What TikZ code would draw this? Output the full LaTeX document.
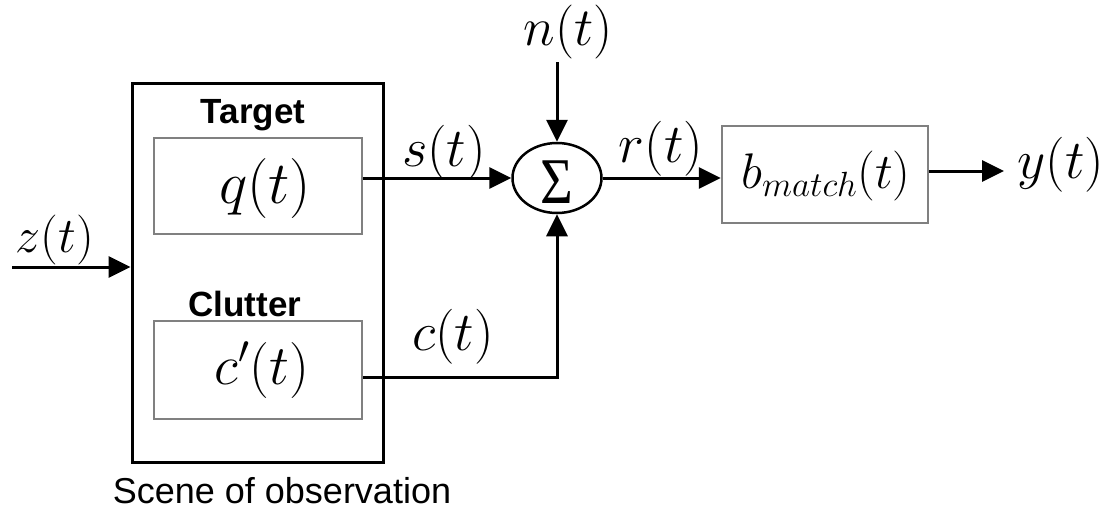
\RequirePackage{fix-cm}
\documentclass[tikz,border=0pt]{standalone}
\usepackage{graphicx}
\usepackage{fontspec}
\newfontfamily\arialfont{Liberation Sans}
\newfontfamily\serifsym{Liberation Serif}
\usetikzlibrary{arrows.meta,shapes.geometric}
\definecolor{boxgray}{RGB}{128,128,128}
\newcommand{\fs}[1]{\fontsize{#1}{#1}\selectfont}
\tikzset{
  sig/.style={line width=3pt,-{Triangle[length=22pt,width=21pt]}},
  graybox/.style={draw=boxgray,line width=2.5pt,rectangle,inner sep=0pt},
  lbl/.style={inner sep=0pt},
  head/.style={inner sep=0pt,anchor=base,font=\arialfont\bfseries\fs{35}},
}
\begin{document}
\begin{tikzpicture}[x=1pt,y=-1pt]
\useasboundingbox (0,0) rectangle (1117,512);
% blocks
\node[draw,line width=3pt,minimum width=251pt,minimum height=379pt,inner sep=0pt] (scene) at (257.5,272.5) {};
\node[graybox,minimum width=208pt,minimum height=96pt] (qbox) at (258,186) {};
\node[graybox,minimum width=208pt,minimum height=98pt] (cbox) at (258,370) {};
\node[draw,ellipse,line width=2.5pt,minimum width=89pt,minimum height=70pt,inner sep=0pt] (sum) at (557,178) {};
\node[lbl] (sigma) at (557,182.5) {\scalebox{1.25}[1.45]{\serifsym\fs{45}Σ}};
\node[graybox,minimum width=206pt,minimum height=97pt] (bbox) at (825,174.5) {};
% texts
\node[head] (target) at (253,123) {Target};
\node[head] (clutter) at (245,316) {Clutter};
\node[lbl,anchor=base,font=\arialfont\fs{36}] (scenelbl) at (282,503) {Scene of observation};
\node[lbl,font=\fs{60}] (qlbl) at (265,188) {$q(t)$};
\node[lbl,font=\fs{56}] (clbl) at (262,370) {$c'(t)$};
\node[lbl,font=\fs{50}] (zlbl) at (55,240) {$z(t)$};
\node[lbl,font=\fs{54}] (nlbl) at (568,32) {$n(t)$};
\node[lbl,font=\fs{55}] (slbl) at (444,153) {$s(t)$};
\node[lbl,font=\fs{55}] (rlbl) at (661,149) {$r(t)$};
\node[lbl,font=\fs{55}] (ctlbl) at (453,337) {$c(t)$};
\node[lbl,font=\fs{50}] (blbl) at (826,176) {$b_{match}(t)$};
\node[lbl,font=\fs{55}] (ylbl) at (1061,165) {$y(t)$};
% coordinates
\coordinate (zin) at (12,267);
\coordinate (nin) at (557,62);
\coordinate (cturn) at (557,377);
\coordinate (yend) at (1004,171);
% connectors
\draw[sig] (zin) -- (zin -| scene.west);
\draw[sig] (nin) -- (sum.north);
\draw[sig] (sum.west -| qbox.east) -- (sum.west);
\draw[sig] (cbox.east |- cturn) -- (cturn) -- (sum.south);
\draw[sig] (sum.east) -- (sum.east -| bbox.west);
\draw[sig] (yend -| bbox.east) -- (yend);
\end{tikzpicture}
\end{document}
